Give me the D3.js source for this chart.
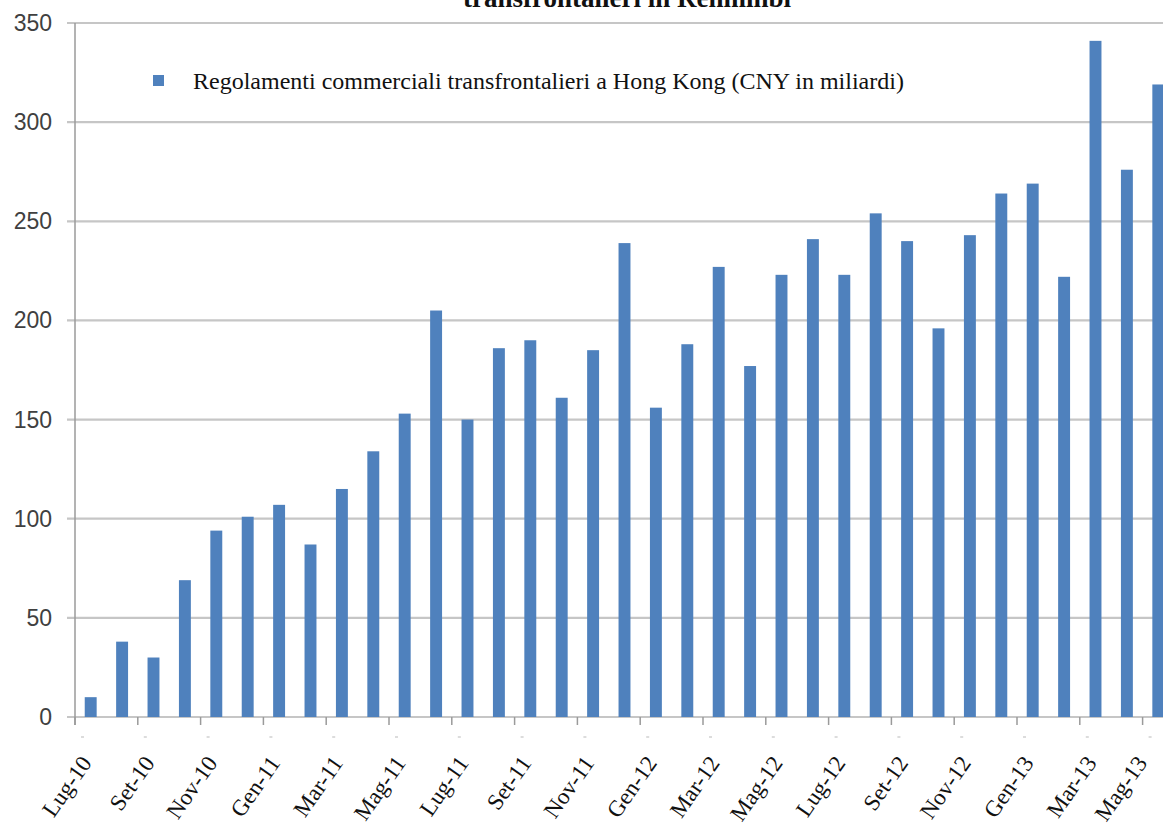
<!DOCTYPE html>
<html lang="it">
<head>
  <meta charset="UTF-8" />
  <title>Regolamenti commerciali transfrontalieri in Renminbi</title>
  <script src="https://d3js.org/d3.v7.min.js"></script>
  <style>
    body { margin: 0; background: #fff; }
    svg { display: block; }
  </style>
</head>
<body>
  <svg id="chart" width="1163" height="825"></svg>
  <script>
    // Mesi (Lug-10 .. Mag-13)
    const months = [
      "Lug-10", "Ago-10", "Set-10", "Ott-10", "Nov-10", "Dic-10",
      "Gen-11", "Feb-11", "Mar-11", "Apr-11", "Mag-11", "Giu-11",
      "Lug-11", "Ago-11", "Set-11", "Ott-11", "Nov-11", "Dic-11",
      "Gen-12", "Feb-12", "Mar-12", "Apr-12", "Mag-12", "Giu-12",
      "Lug-12", "Ago-12", "Set-12", "Ott-12", "Nov-12", "Dic-12",
      "Gen-13", "Feb-13", "Mar-13", "Apr-13", "Mag-13"
    ];
    // CNY in miliardi
    const values = [
      10, 38, 30, 69, 94, 101, 107, 87, 115, 134, 153, 205,
      150, 186, 190, 161, 185, 239, 156, 188, 227, 177, 223, 241,
      223, 254, 240, 196, 243, 264, 269, 222, 341, 276, 319
    ];
    const yTicks = [0, 50, 100, 150, 200, 250, 300, 350];
    const shownLabels = months.filter((m, i) => i % 2 === 0);
    const legendText = "Regolamenti commerciali transfrontalieri a Hong Kong (CNY in miliardi)";

    const barColor = "#4f81bd";
    const svg = d3.select("#chart");

    const x = d3.scaleBand()
        .domain(months)
        .range([75, 1174])
        .paddingInner(0.62)
        .paddingOuter(0.31);
    const y = d3.scaleLinear().domain([0, 350]).range([717, 23]);

    // titolo (tagliato in alto come nell'originale)
    svg.append("text")
       .attr("x", 627).attr("y", 7)
       .attr("text-anchor", "middle")
       .attr("font-family", "'Liberation Serif', 'Times New Roman', serif")
       .attr("font-weight", "bold")
       .attr("font-size", 27)
       .attr("fill", "#111")
       .text("transfrontalieri in Renminbi");

    // griglia orizzontale
    svg.append("g")
       .selectAll("line")
       .data(yTicks)
       .enter().append("line")
       .attr("x1", 67).attr("x2", 1163)
       .attr("y1", d => y(d)).attr("y2", d => y(d))
       .attr("stroke", "#c6c6c6")
       .attr("stroke-width", 2.2);

    // etichette asse y
    svg.append("g")
       .selectAll("text")
       .data(yTicks)
       .enter().append("text")
       .attr("x", 52)
       .attr("y", d => y(d) + 8)
       .attr("text-anchor", "end")
       .attr("font-family", "'Liberation Sans', Arial, sans-serif")
       .attr("font-size", 23)
       .attr("fill", "#404040")
       .text(d => d);

    // asse verticale
    svg.append("line")
       .attr("x1", 75).attr("x2", 75)
       .attr("y1", y(350)).attr("y2", y(0) + 8)
       .attr("stroke", "#9a9a9a")
       .attr("stroke-width", 1.5);

    // barre
    svg.append("g")
       .selectAll("rect")
       .data(values)
       .enter().append("rect")
       .attr("x", (d, i) => x(months[i]))
       .attr("y", d => y(d))
       .attr("width", x.bandwidth())
       .attr("height", d => y(0) - y(d))
       .attr("fill", barColor);

    // tacche asse x (ogni due mesi, ai bordi delle categorie)
    const edge = m => x(m) - x.step() * x.paddingInner() / 2;
    svg.append("g")
       .selectAll("line")
       .data(shownLabels)
       .enter().append("line")
       .attr("x1", d => edge(d)).attr("x2", d => edge(d))
       .attr("y1", y(0)).attr("y2", y(0) + 8)
       .attr("stroke", "#9a9a9a")
       .attr("stroke-width", 1.5);
    svg.append("g")
       .selectAll("rect")
       .data(shownLabels)
       .enter().append("rect")
       .attr("x", d => edge(d) + 6).attr("y", 736)
       .attr("width", 3).attr("height", 2)
       .attr("fill", "#dcdcdc");

    // etichette asse x ruotate (l'ultima resta dentro il bordo)
    svg.append("g")
       .selectAll("text")
       .data(shownLabels)
       .enter().append("text")
       .attr("transform", d => {
         const lx = Math.min(x(d) + x.bandwidth() / 2 + 2, 1148);
         return `translate(${lx},763) rotate(-55)`;
       })
       .attr("text-anchor", "end")
       .attr("font-family", "'Liberation Serif', 'Times New Roman', serif")
       .attr("font-size", 23)
       .attr("fill", "#111")
       .text(d => d);

    // legenda
    svg.append("rect")
       .attr("x", 153).attr("y", 75)
       .attr("width", 11).attr("height", 11)
       .attr("fill", barColor);
    svg.append("text")
       .attr("x", 193).attr("y", 89)
       .attr("font-family", "'Liberation Serif', 'Times New Roman', serif")
       .attr("font-size", 24)
       .attr("fill", "#111")
       .text(legendText);
  </script>
</body>
</html>
